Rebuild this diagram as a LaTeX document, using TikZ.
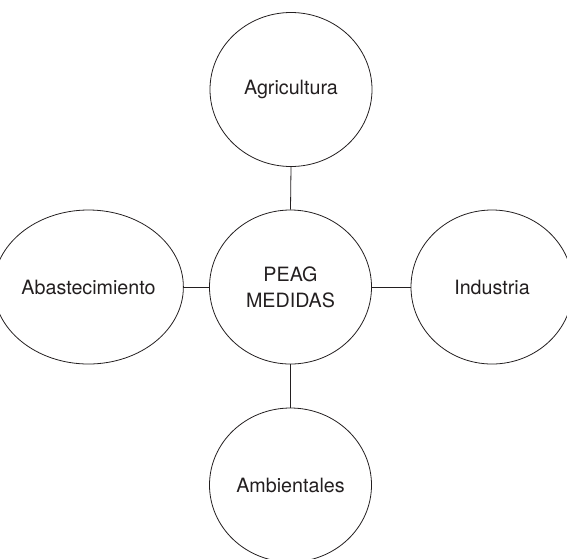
\documentclass[tikz,border=0pt]{standalone}
\usepackage{fontspec}
\setmainfont{TeX Gyre Heros}
\usetikzlibrary{shapes.geometric}
\definecolor{ink}{HTML}{231F20}
\begin{document}
\begin{tikzpicture}[x=1pt,y=-1pt,
  bubble/.style={ellipse,draw=ink,line width=0.8pt,minimum width=162pt,minimum height=154pt,inner sep=0pt,
    text=ink,font=\fontsize{19.7}{26}\selectfont,align=center},
  link/.style={draw=ink,line width=0.8pt}]
\useasboundingbox (0,0) rectangle (567,558);
\clip (0,0) rectangle (567,558);
\node[bubble] (agri) at (291,89.5) {Agricultura};
\node[bubble] (peag) at (290.5,287) {PEAG\\MEDIDAS};
\node[bubble] (abas) at (88.5,287) {Abastecimiento};
\node[bubble] (indu) at (492,287) {Industria};
\node[bubble] (ambi) at (290.5,485) {Ambientales};
\draw[link] (agri.south) -- (peag.north);
\draw[link] (peag.south) -- (ambi.north);
\draw[link] (abas.east) -- (peag.west);
\draw[link] (peag.east) -- (indu.west);
\end{tikzpicture}
\end{document}
